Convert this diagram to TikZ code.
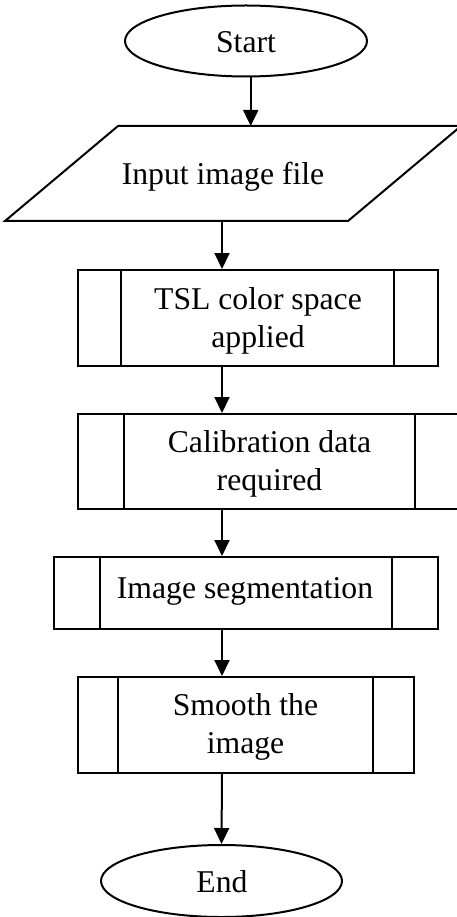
\documentclass[tikz,border=0pt]{standalone}
\usepackage{fontspec}
\setmainfont{Liberation Serif}
\usetikzlibrary{arrows.meta,shapes.geometric}
\begin{document}
\begin{tikzpicture}[x=1pt,y=-1pt,
  outline/.style={draw=black,line width=2pt},
  innerline/.style={draw=black,line width=1.5pt},
  boxshape/.style={outline,rectangle,inner sep=0pt,fill=none},
  term/.style={outline,ellipse,inner sep=0pt},
  lbl/.style={inner sep=0pt,anchor=base,align=center,font=\fontsize{31.7}{38}\selectfont},
  arr/.style={line width=2pt,-{Triangle[width=15pt,length=16pt]}}]
\useasboundingbox (0,0) rectangle (457,917);
\clip (0,0) rectangle (457,917);
\coordinate (ax) at (222,0);
\coordinate (sx) at (250.7,0);
% Start
\node[term,minimum width=242pt,minimum height=71pt] (start) at (246,41) {};
\node[lbl] (tstart) at (246,53) {Start};
% Input parallelogram
\coordinate (p1) at (118,126);
\coordinate (p2) at (461,126);
\coordinate (p3) at (348,221);
\coordinate (p4) at (5,221);
\draw[outline,line join=miter] (p1) -- (p2) -- (p3) -- (p4) -- cycle;
\node[lbl] (tinp) at (223,185) {Input image file};
% Box 1
\node[boxshape,minimum width=360pt,minimum height=96pt] (b1) at (258,318) {};
\draw[innerline] (121,270) -- (121,366) (394,270) -- (394,366);
\node[lbl] (tb1) at (258,347) {TSL color space\\applied};
% Box 2
\node[boxshape,minimum width=384pt,minimum height=95pt] (b2) at (270,461.5) {};
\draw[innerline] (124,414) -- (124,509) (415,414) -- (415,509);
\node[lbl] (tb2) at (269.5,490) {Calibration data\\required};
% Box 3
\node[boxshape,minimum width=384pt,minimum height=72pt] (b3) at (246,593) {};
\draw[innerline] (100,557) -- (100,629) (392,557) -- (392,629);
\node[lbl] (tb3) at (245,598) {Image segmentation};
% Box 4
\node[boxshape,minimum width=336pt,minimum height=96pt] (b4) at (246,725) {};
\draw[innerline] (118,677) -- (118,773) (373,677) -- (373,773);
\node[lbl] (tb4) at (245.5,753) {Smooth the\\image};
% End
\node[term,minimum width=241pt,minimum height=72pt] (end) at (221.5,881) {};
\node[lbl] (tend) at (222,892) {End};
% Connectors
\draw[arr] (start.south -| sx) -- (p1 -| sx);
\draw[arr] (p4 -| ax) -- (b1.north -| ax);
\draw[arr] (b1.south -| ax) -- (b2.north -| ax);
\draw[arr] (b2.south -| ax) -- (b3.north -| ax);
\draw[arr] (b3.south -| ax) -- (b4.north -| ax);
\draw[arr] (b4.south -| ax) -- (end.north);
\end{tikzpicture}
\end{document}
